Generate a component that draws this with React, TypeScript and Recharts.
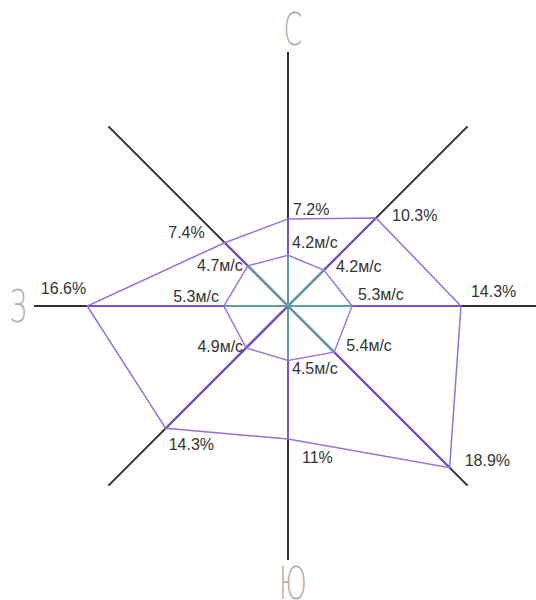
import React from 'react';
import { RadarChart, Radar, PolarGrid, PolarAngleAxis, PolarRadiusAxis } from 'recharts';

const directions = ['С', 'СВ', 'В', 'ЮВ', 'Ю', 'ЮЗ', 'З', 'СЗ'];
const shownDirections = ['С', 'Ю', 'З'];
const frequency = [7.2, 10.3, 14.3, 18.9, 11, 14.3, 16.6, 7.4];
const speed = [4.2, 4.2, 5.3, 5.4, 4.5, 4.9, 5.3, 4.7];
const radiusDomain = [0, 20.6];

const data = directions.map((dir, i) => ({ dir, freq: frequency[i], speed: speed[i] }));

const CX = 288;
const CY = 306;
const R = 254;

// label placement relative to each vertex: dx, dy, anchor
const freqLabelPos: [number, number, string][] = [
  [5, -4, 'start'], [16, 3, 'start'], [10, -9, 'start'], [15, -2, 'start'],
  [14, 24, 'start'], [3, 22, 'start'], [-1, -12, 'end'], [-20, -5, 'end'],
];
const speedLabelPos: [number, number, string][] = [
  [4, -7, 'start'], [12, 2, 'start'], [6, -6, 'start'], [12, -1, 'start'],
  [4, 14, 'start'], [-3, 4, 'end'], [-5, -4, 'end'], [-5, 5, 'end'],
];

const labelStyle = { fontFamily: '"Liberation Sans", Arial, sans-serif', fontSize: 16, fill: '#333' };

const makeShape = (opts: {
  polyColor: string;
  spokeColor: (i: number) => string;
  unit: string;
  pos: [number, number, string][];
}) => (props: any) => {
  const pts = props.points || [];
  const poly = pts.map((p: any) => `${p.x},${p.y}`).join(' ');
  return (
    <g>
      {pts.map((p: any, i: number) => (
        <line key={`s${i}`} x1={p.cx ?? CX} y1={p.cy ?? CY} x2={p.x} y2={p.y}
          stroke={opts.spokeColor(i)} strokeWidth={2} />
      ))}
      <polygon points={poly} fill="none" stroke={opts.polyColor} strokeWidth={1.5} />
      {pts.map((p: any, i: number) => (
        <text key={`t${i}`} x={p.x + opts.pos[i][0]} y={p.y + opts.pos[i][1]}
          textAnchor={opts.pos[i][2] as any} {...labelStyle}>
          {`${p.value}${opts.unit}`}
        </text>
      ))}
    </g>
  );
};

const freqShape = makeShape({
  polyColor: '#9370DB',
  spokeColor: () => '#7a50cc',
  unit: '%',
  pos: freqLabelPos,
});

const speedShape = makeShape({
  polyColor: '#9a78e0',
  spokeColor: (i) => (directions[i] === 'ЮЗ' ? '#7a50cc' : '#5f9ea0'),
  unit: 'м/с',
  pos: speedLabelPos,
});

const DirTick = (props: any) => {
  const { x, y, payload } = props;
  if (!shownDirections.includes(payload.value)) return null;
  const dx = x - CX;
  const dy = y - CY;
  const len = Math.sqrt(dx * dx + dy * dy) || 1;
  const vertical = Math.abs(dx) < 1;
  const gap = vertical ? 23 : 16;
  const tx = CX + (dx / len) * (R + gap) + (vertical ? 5 : 0);
  const ty = CY + (dy / len) * (R + gap) + 16;
  return (
    <text transform={`translate(${tx},${ty}) scale(0.6,1)`} textAnchor="middle"
      fontFamily='"DejaVu Sans", sans-serif' fontWeight={200} fontSize={45} fill="#b4acac">
      {payload.value}
    </text>
  );
};

export default function App() {
  return (
    <div style={{ position: 'absolute', left: 0, top: 0, width: 536, height: 600, background: '#fff' }}>
      <RadarChart width={536} height={600} data={data} cx={CX} cy={CY} outerRadius={R}
        margin={{ top: 0, right: 0, bottom: 0, left: 0 }}>
        <PolarGrid polarRadius={[]} stroke="#333" strokeWidth={2} strokeOpacity={1} />
        <PolarAngleAxis dataKey="dir" axisLine={false} tickLine={false} tick={<DirTick />} />
        <PolarRadiusAxis domain={radiusDomain} tick={false} axisLine={false} />
        <Radar dataKey="freq" shape={freqShape} isAnimationActive={false} />
        <Radar dataKey="speed" shape={speedShape} isAnimationActive={false} />
      </RadarChart>
    </div>
  );
}
